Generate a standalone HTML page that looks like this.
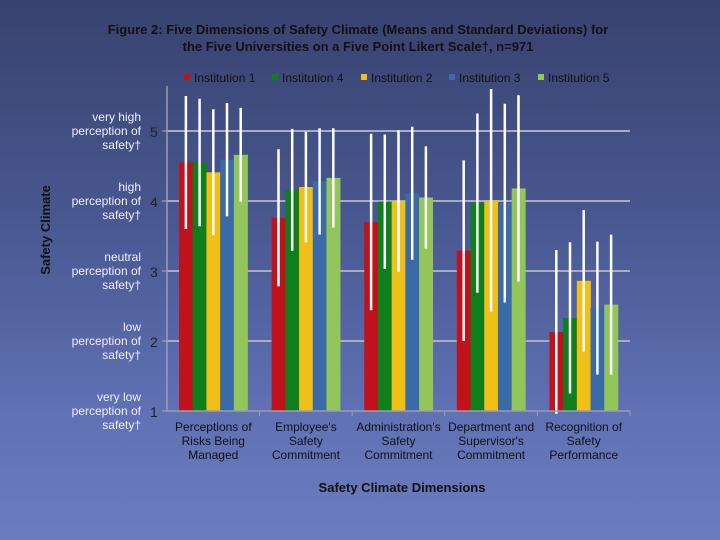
<!DOCTYPE html>
<html><head><meta charset="utf-8"><style>
body{margin:0;width:720px;height:540px;overflow:hidden;font-family:"Liberation Sans",sans-serif;}
#bg{position:absolute;left:0;top:0;width:720px;height:540px;background:linear-gradient(180deg,#38426f 0%,#48578f 40%,#5f70b3 75%,#6b7cc0 100%);}
svg{position:absolute;left:0;top:0;}
</style></head><body>
<div id="bg"></div>
<svg width="720" height="540" id="chart">
<text x="358" y="34" text-anchor="middle" font-size="13" font-weight="bold" fill="#111">Figure 2: Five Dimensions of Safety Climate (Means and Standard Deviations) for</text>
<text x="358" y="51" text-anchor="middle" font-size="13" font-weight="bold" fill="#111">the Five Universities on a Five Point Likert Scale†, n=971</text>
<text transform="translate(50,230) rotate(-90)" text-anchor="middle" font-size="13" font-weight="bold" fill="#111">Safety Climate</text>
<text x="402" y="492" text-anchor="middle" font-size="13" font-weight="bold" fill="#111">Safety Climate Dimensions</text>
<g id="grid"></g><g id="bars"></g><g id="errs"></g><g id="axes"></g><g id="legend"></g>
</svg>
<script>
const categories=[["Perceptions of","Risks Being","Managed"],["Employee's","Safety","Commitment"],["Administration's","Safety","Commitment"],["Department and","Supervisor's","Commitment"],["Recognition of","Safety","Performance"]];
const seriesNames=["Institution 1","Institution 4","Institution 2","Institution 3","Institution 5"];
const seriesColors=["#c0121a","#0e7f1a","#f0c018","#3a6aa8","#92c55a"];
const inst1Mean=[4.55,3.76,3.70,3.29,2.13];
const inst4Mean=[4.55,4.16,3.99,3.97,2.33];
const inst2Mean=[4.41,4.20,4.00,4.01,2.86];
const inst3Mean=[4.59,4.28,4.11,3.97,2.47];
const inst5Mean=[4.66,4.33,4.05,4.18,2.52];
const inst1Sd=[0.95,0.98,1.26,1.29,1.17];
const inst4Sd=[0.91,0.87,0.96,1.28,1.08];
const inst2Sd=[0.90,0.79,1.01,1.59,1.01];
const inst3Sd=[0.81,0.76,0.95,1.42,0.95];
const inst5Sd=[0.67,0.71,0.73,1.33,1.00];
const yTicks=[1,2,3,4,5];
const yTickLabels=[["very low","perception of","safety†"],["low","perception of","safety†"],["neutral","perception of","safety†"],["high","perception of","safety†"],["very high","perception of","safety†"]];

const means=[inst1Mean,inst4Mean,inst2Mean,inst3Mean,inst5Mean];
const sds=[inst1Sd,inst4Sd,inst2Sd,inst3Sd,inst5Sd];
const NS="http://www.w3.org/2000/svg";
const X0=167,X1=630,Y1=411,PXU=70;
const y=v=>Y1-(v-1)*PXU;
const catW=(X1-X0)/categories.length;
const barW=13.7;
function mk(t,a,p){const e=document.createElementNS(NS,t);for(const k in a)e.setAttribute(k,a[k]);document.getElementById(p).appendChild(e);return e;}
yTicks.forEach((t,i)=>{
  if(t>1){const g=mk('line',{x1:X0,x2:X1,y1:y(t),y2:y(t),stroke:'#a9acc0','stroke-width':2},'grid');
  
  }
  const n=mk('text',{x:150,y:y(t)+6,'font-size':14,fill:'#222'},'axes');n.textContent=t;
  
  
  yTickLabels[i].forEach((s,j)=>{const l=mk('text',{x:141,y:y(t)-10+j*14,'text-anchor':'end','font-size':12,fill:'#eef'},'axes');l.textContent=s;
  
  });
  mk('line',{x1:162,x2:X0,y1:y(t),y2:y(t),stroke:'#a9acc0','stroke-width':1},'axes');
});
const ax=mk('line',{x1:X0,x2:X0,y1:y(5)-45,y2:Y1,stroke:'#9a9db5','stroke-width':1.5},'axes');


const bx=mk('line',{x1:X0,x2:X1,y1:Y1,y2:Y1,stroke:'#9a9db5','stroke-width':1.5},'axes');


categories.forEach((c,ci)=>{
  const cx=X0+catW*ci+catW/2;
  mk('line',{x1:X0+catW*(ci+1),x2:X0+catW*(ci+1),y1:Y1,y2:Y1+5,stroke:'#9a9db5'},'axes');
  c.forEach((s,j)=>{const l=mk('text',{x:cx,y:431+j*14,'text-anchor':'middle','font-size':12,fill:'#111'},'axes');l.textContent=s;
  
  });
  means.forEach((m,si)=>{
    const bxp=cx-barW*2.5+si*barW;
    const r=mk('rect',{x:bxp,y:y(m[ci]),width:barW+0.3,height:Y1-y(m[ci]),fill:seriesColors[si]},'bars');
    
    
    const ex=bxp+barW/2;
    const e=mk('line',{x1:ex,x2:ex,y1:y(m[ci]+sds[si][ci]),y2:y(m[ci]-sds[si][ci]),stroke:'#fff','stroke-width':2.5},'errs');
    
    
  });
});
const legX=[184,272,361,449,538];
seriesNames.forEach((n,i)=>{
  const r=mk('rect',{x:legX[i],y:74,width:6,height:6,fill:seriesColors[i]},'legend');
  
  
  const t=mk('text',{x:legX[i]+10,y:82,'font-size':12,fill:'#111'},'legend');t.textContent=n;
  
  
});
</script>
</body></html>
